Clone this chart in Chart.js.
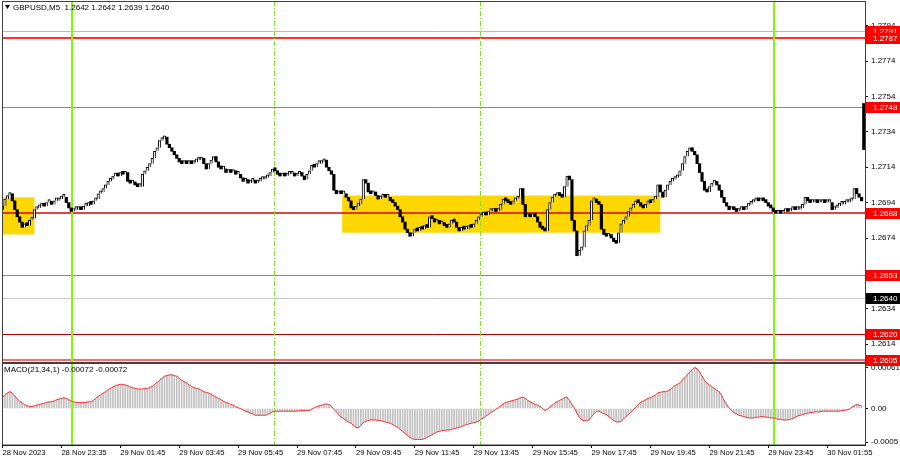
<!DOCTYPE html>
<html>
<head>
<meta charset="utf-8">
<script src="https://cdn.jsdelivr.net/npm/chart.js@4.4.0/dist/chart.umd.min.js"></script>
<style>
html, body { margin: 0; padding: 0; background: #fff; }
#wrap { width: 900px; height: 460px; }
</style>
</head>
<body>
<div id="wrap"><canvas id="chart" width="900" height="460"></canvas></div>
<script>
const symbolTitle = 'GBPUSD,M5  1.2642 1.2642 1.2639 1.2640';
const macdTitle = 'MACD(21,34,1) -0.00072 -0.00072';

// M5 closes, one per bar (bar index = position on the time axis)
const firstOpen = 1.2690;
const closes = [
  1.2692,1.2696,1.2698,1.2699,1.2695,1.2690,1.2686,1.2683,1.2680,1.2682,
  1.2681,1.2684,1.2685,1.2690,1.2691,1.2692,1.2693,1.2692,1.2694,1.2694,
  1.2693,1.2695,1.2695,1.2696,1.2697,1.2697,1.2694,1.2691,1.2689,1.2690,
  1.2690,1.2691,1.2690,1.2692,1.2692,1.2694,1.2693,1.2695,1.2696,1.2699,
  1.2700,1.2702,1.2704,1.2706,1.2707,1.2709,1.2710,1.2709,1.2711,1.2710,
  1.2711,1.2706,1.2705,1.2705,1.2704,1.2703,1.2703,1.2710,1.2712,1.2714,
  1.2716,1.2719,1.2723,1.2725,1.2729,1.2730,1.2731,1.2727,1.2725,1.2723,
  1.2721,1.2719,1.2717,1.2716,1.2717,1.2716,1.2717,1.2716,1.2717,1.2718,
  1.2718,1.2719,1.2716,1.2713,1.2716,1.2718,1.2720,1.2717,1.2714,1.2713,
  1.2713,1.2711,1.2712,1.2711,1.2712,1.2710,1.2710,1.2708,1.2706,1.2707,
  1.2705,1.2706,1.2706,1.2705,1.2706,1.2707,1.2707,1.2708,1.2709,1.2711,
  1.2713,1.2712,1.2710,1.2709,1.2710,1.2709,1.2710,1.2710,1.2710,1.2709,
  1.2710,1.2711,1.2709,1.2707,1.2710,1.2712,1.2715,1.2714,1.2716,1.2716,
  1.2717,1.2718,1.2714,1.2712,1.2710,1.2701,1.2699,1.2700,1.2699,1.2699,
  1.2697,1.2695,1.2691,1.2690,1.2692,1.2693,1.2696,1.2707,1.2705,1.2700,
  1.2699,1.2700,1.2698,1.2696,1.2697,1.2698,1.2697,1.2697,1.2695,1.2694,
  1.2692,1.2690,1.2686,1.2683,1.2679,1.2677,1.2675,1.2677,1.2679,1.2678,
  1.2680,1.2679,1.2681,1.2680,1.2686,1.2685,1.2683,1.2684,1.2682,1.2682,
  1.2681,1.2680,1.2682,1.2684,1.2683,1.2680,1.2678,1.2680,1.2679,1.2679,
  1.2681,1.2680,1.2682,1.2684,1.2686,1.2687,1.2688,1.2687,1.2689,1.2689,
  1.2690,1.2689,1.2690,1.2693,1.2696,1.2695,1.2694,1.2693,1.2695,1.2696,
  1.2697,1.2702,1.2693,1.2686,1.2687,1.2686,1.2688,1.2686,1.2683,1.2680,
  1.2679,1.2678,1.2690,1.2694,1.2697,1.2698,1.2699,1.2698,1.2697,1.2703,
  1.2709,1.2707,1.2684,1.2678,1.2664,1.2667,1.2669,1.2678,1.2681,1.2684,
  1.2695,1.2696,1.2694,1.2693,1.2679,1.2676,1.2675,1.2676,1.2674,1.2672,
  1.2671,1.2677,1.2682,1.2684,1.2686,1.2689,1.2691,1.2693,1.2695,1.2694,
  1.2692,1.2691,1.2693,1.2695,1.2694,1.2696,1.2697,1.2704,1.2700,1.2697,
  1.2701,1.2704,1.2706,1.2707,1.2708,1.2709,1.2712,1.2716,1.2720,1.2723,
  1.2725,1.2723,1.2721,1.2716,1.2711,1.2706,1.2701,1.2700,1.2703,1.2705,
  1.2706,1.2704,1.2701,1.2697,1.2694,1.2692,1.2690,1.2691,1.2690,1.2689,
  1.2690,1.2691,1.2690,1.2692,1.2693,1.2694,1.2695,1.2696,1.2695,1.2696,
  1.2695,1.2694,1.2692,1.2691,1.2689,1.2688,1.2689,1.2688,1.2689,1.2690,
  1.2689,1.2690,1.2691,1.2690,1.2690,1.2691,1.2693,1.2697,1.2695,1.2694,
  1.2694,1.2695,1.2694,1.2694,1.2695,1.2694,1.2694,1.2694,1.2690,1.2691,
  1.2692,1.2693,1.2693,1.2694,1.2694,1.2695,1.2696,1.2702,1.2699,1.2697,
  1.2695
];
const lastBar = [1.2724, 1.2750];

// MACD(21,34,1) main value per bar (signal equals main with period 1)
const macd = [
  0.00017,0.00020,0.00023,0.00025,0.00023,0.00019,0.00014,0.00011,0.00008,0.00006,
  0.00004,0.00003,0.00003,0.00004,0.00005,0.00006,0.00007,0.00008,0.00009,0.00010,
  0.00010,0.00011,0.00013,0.00014,0.00015,0.00016,0.00015,0.00013,0.00011,0.00010,
  0.00009,0.00009,0.00009,0.00009,0.00009,0.00010,0.00010,0.00012,0.00015,0.00018,
  0.00020,0.00023,0.00025,0.00028,0.00030,0.00032,0.00034,0.00035,0.00036,0.00036,
  0.00035,0.00034,0.00032,0.00031,0.00030,0.00029,0.00029,0.00029,0.00030,0.00030,
  0.00031,0.00033,0.00036,0.00039,0.00042,0.00045,0.00048,0.00049,0.00050,0.00050,
  0.00049,0.00048,0.00045,0.00042,0.00040,0.00038,0.00035,0.00033,0.00031,0.00030,
  0.00029,0.00027,0.00025,0.00024,0.00023,0.00021,0.00019,0.00017,0.00015,0.00013,
  0.00011,0.00009,0.00008,0.00006,0.00005,0.00003,0.00001,0.00000,-0.00002,-0.00004,
  -0.00005,-0.00007,-0.00008,-0.00010,-0.00010,-0.00010,-0.00010,-0.00010,-0.00009,-0.00007,
  -0.00005,-0.00004,-0.00004,-0.00004,-0.00004,-0.00004,-0.00004,-0.00004,-0.00004,-0.00004,
  -0.00004,-0.00003,-0.00003,-0.00003,-0.00003,-0.00003,-0.00001,0.00001,0.00003,0.00004,
  0.00005,0.00006,0.00007,0.00006,0.00003,-0.00001,-0.00005,-0.00009,-0.00013,-0.00015,
  -0.00018,-0.00020,-0.00022,-0.00025,-0.00028,-0.00029,-0.00025,-0.00021,-0.00019,-0.00018,
  -0.00017,-0.00017,-0.00017,-0.00018,-0.00018,-0.00019,-0.00020,-0.00021,-0.00022,-0.00024,
  -0.00026,-0.00028,-0.00031,-0.00034,-0.00037,-0.00040,-0.00043,-0.00045,-0.00046,-0.00046,
  -0.00046,-0.00046,-0.00045,-0.00043,-0.00041,-0.00039,-0.00037,-0.00035,-0.00034,-0.00033,
  -0.00033,-0.00032,-0.00032,-0.00031,-0.00030,-0.00029,-0.00028,-0.00027,-0.00025,-0.00024,
  -0.00023,-0.00022,-0.00021,-0.00020,-0.00019,-0.00016,-0.00014,-0.00011,-0.00009,-0.00006,
  -0.00004,-0.00001,0.00001,0.00004,0.00007,0.00009,0.00010,0.00011,0.00012,0.00013,
  0.00014,0.00016,0.00017,0.00015,0.00012,0.00010,0.00008,0.00006,0.00005,0.00003,
  0.00000,-0.00003,-0.00001,0.00002,0.00005,0.00008,0.00010,0.00012,0.00014,0.00016,
  0.00017,0.00012,0.00006,0.00001,-0.00007,-0.00013,-0.00017,-0.00018,-0.00018,-0.00017,
  -0.00012,-0.00008,-0.00004,-0.00004,-0.00006,-0.00008,-0.00009,-0.00012,-0.00015,-0.00018,
  -0.00020,-0.00020,-0.00019,-0.00016,-0.00012,-0.00009,-0.00006,-0.00002,0.00002,0.00006,
  0.00009,0.00011,0.00013,0.00015,0.00016,0.00018,0.00020,0.00023,0.00024,0.00025,
  0.00025,0.00026,0.00028,0.00031,0.00034,0.00036,0.00038,0.00042,0.00046,0.00050,
  0.00054,0.00058,0.00061,0.00059,0.00054,0.00048,0.00042,0.00038,0.00035,0.00032,
  0.00030,0.00027,0.00025,0.00019,0.00012,0.00006,0.00001,-0.00003,-0.00006,-0.00008,
  -0.00010,-0.00011,-0.00012,-0.00013,-0.00014,-0.00014,-0.00014,-0.00013,-0.00013,-0.00012,
  -0.00012,-0.00013,-0.00013,-0.00014,-0.00014,-0.00015,-0.00016,-0.00016,-0.00017,-0.00017,
  -0.00017,-0.00016,-0.00015,-0.00013,-0.00011,-0.00010,-0.00009,-0.00008,-0.00007,-0.00006,
  -0.00006,-0.00005,-0.00005,-0.00005,-0.00004,-0.00004,-0.00004,-0.00004,-0.00004,-0.00004,
  -0.00004,-0.00004,-0.00003,-0.00003,-0.00002,-0.00001,0.00002,0.00004,0.00006,0.00005,
  0.00004
];

// time axis labels (bar index -> text)
const timeIdx = [0, 24, 48, 72, 96, 120, 144, 168, 192, 216, 240, 264, 288, 312, 336];
const timeText = ['28 Nov 2023', '28 Nov 23:35', '29 Nov 01:45', '29 Nov 03:45', '29 Nov 05:45',
  '29 Nov 07:45', '29 Nov 09:45', '29 Nov 11:45', '29 Nov 13:45', '29 Nov 15:45',
  '29 Nov 17:45', '29 Nov 19:45', '29 Nov 21:45', '29 Nov 23:45', '30 Nov 01:55'];

const priceTicks = [1.2794, 1.2774, 1.2754, 1.2734, 1.2714, 1.2694, 1.2674, 1.2654, 1.2634, 1.2614];
const macdTicks = [0.00061, 0, -0.0005];
const macdTickText = ['0.00061', '0.00', '-0.0005'];

// horizontal price levels and the current price
const levels = [1.2791, 1.2787, 1.2748, 1.2688, 1.2653, 1.2640, 1.2620, 1.2605];
// yellow zones: [from bar, to bar, low, high]
const zones = [[-0.2, 13, 1.2676, 1.2697], [138.4, 268, 1.2677, 1.2698]];
const daySep = [28.2, 314.3];
const sessionMarks = [110.6, 194.7];

const levelStyle = [
  { line: '#ff9c9c', w: 1, box: '#ff0000' },
  { line: '#ff3030', w: 2, box: '#ff0000' },
  { line: '#f25c5c', w: 1, box: '#ff0000' },
  { line: '#e00000', w: 1.5, box: '#ff0000' },
  { line: '#f25c5c', w: 1, box: '#ff0000' },
  { line: '#c8c8c8', w: 1, box: '#000000' },
  { line: '#b00000', w: 1, box: '#ff0000' },
  { line: '#f07070', w: 2, box: '#ff0000' }
];

const FONT = 'Liberation Sans, Arial, sans-serif';

const overlay = {
  id: 'overlay',
  beforeDatasetsDraw(chart) {
    const { ctx, chartArea: ca, scales } = chart;
    const x = scales.x, y = scales.y;
    ctx.save();
    ctx.beginPath();
    ctx.rect(ca.left, y.top, ca.right - ca.left, y.bottom - y.top);
    ctx.clip();
    ctx.fillStyle = '#ffd700';
    zones.forEach(z => {
      const x0 = x.getPixelForValue(z[0]), x1 = x.getPixelForValue(z[1]);
      const y0 = y.getPixelForValue(z[3]), y1 = y.getPixelForValue(z[2]);
      ctx.fillRect(x0, y0, x1 - x0, y1 - y0);
    });
    levels.forEach((p, k) => {
      const st = levelStyle[k];
      const yy = Math.round(y.getPixelForValue(p)) + (st.w === 1 ? 0.5 : 0);
      ctx.strokeStyle = st.line;
      ctx.lineWidth = st.w;
      ctx.beginPath();
      ctx.moveTo(ca.left, yy);
      ctx.lineTo(ca.right, yy);
      ctx.stroke();
    });
    ctx.restore();

    ctx.save();
    ctx.strokeStyle = '#7cfc00';
    ctx.lineWidth = 2;
    daySep.forEach(v => {
      const xx = Math.round(x.getPixelForValue(v));
      ctx.beginPath();
      ctx.moveTo(xx, ca.top);
      ctx.lineTo(xx, ca.bottom);
      ctx.stroke();
    });
    ctx.strokeStyle = '#7ee81e';
    ctx.lineWidth = 1;
    ctx.setLineDash([5, 2, 1, 2]);
    sessionMarks.forEach(v => {
      const xx = Math.round(x.getPixelForValue(v)) + 0.5;
      ctx.beginPath();
      ctx.moveTo(xx, ca.top);
      ctx.lineTo(xx, ca.bottom);
      ctx.stroke();
    });
    ctx.restore();
  },
  afterDraw(chart) {
    const { ctx, chartArea: ca, scales } = chart;
    const y = scales.y, m = scales.m;
    ctx.save();
    // panel frames
    ctx.strokeStyle = '#404040';
    ctx.lineWidth = 1;
    ctx.strokeRect(ca.left + 0.5, y.top + 0.5, ca.right - ca.left, y.bottom - y.top - 1);
    ctx.strokeRect(ca.left + 0.5, m.top + 0.5, ca.right - ca.left, m.bottom - m.top - 0.5);

    // titles
    ctx.fillStyle = '#000';
    ctx.beginPath();
    ctx.moveTo(5, 5); ctx.lineTo(10, 5); ctx.lineTo(7.5, 9); ctx.closePath();
    ctx.fill();
    ctx.font = '8px ' + FONT;
    ctx.textBaseline = 'middle';
    ctx.textAlign = 'left';
    ctx.fillText(symbolTitle, 13, 7.5);
    ctx.fillText(macdTitle, 4, m.top + 7);

    // price level tags on the right axis
    levels.forEach((p, k) => {
      const yy = Math.round(y.getPixelForValue(p));
      ctx.fillStyle = levelStyle[k].box;
      ctx.fillRect(ca.right + 1, yy - 5, 900 - ca.right - 1, 11);
      ctx.fillStyle = '#fff';
      ctx.fillText(p.toFixed(4), ca.right + 8, yy + 0.5);
    });
    ctx.restore();
  }
};

const bodies = closes.map((c, i) => ({ x: i, y: [i ? closes[i - 1] : firstOpen, c] }));
const macdPts = macd.map((v, i) => ({ x: i, y: v }));
const isBull = c => c.raw && c.raw.y[1] >= c.raw.y[0];

const axisFont = { family: FONT, size: 8 };

new Chart(document.getElementById('chart').getContext('2d'), {
  type: 'bar',
  data: {
    datasets: [
      {
        type: 'line', label: 'MACD line', data: macdPts, yAxisID: 'm',
        borderColor: '#ff3030', borderWidth: 1, pointRadius: 0, tension: 0
      },
      {
        label: 'GBPUSD', data: bodies, yAxisID: 'y', grouped: false,
        barThickness: 2.5, minBarLength: 3,
        backgroundColor: c => isBull(c) ? '#ffffff' : '#000000',
        borderColor: '#000000',
        borderWidth: c => isBull(c) ? 1 : 0
      },
      {
        label: 'last', data: [{ x: 351, y: lastBar }], yAxisID: 'y', grouped: false,
        barThickness: 3, backgroundColor: '#000'
      },
      {
        label: 'MACD', data: macdPts, yAxisID: 'm', grouped: false,
        barThickness: 1, backgroundColor: '#c0c0c0'
      }
    ]
  },
  options: {
    responsive: false,
    animation: false,
    layout: { padding: { left: 2, top: 1, right: 0, bottom: 0 } },
    plugins: { legend: { display: false }, tooltip: { enabled: false } },
    scales: {
      x: {
        type: 'linear', min: -0.2, max: 351.4, offset: false, bounds: 'data',
        grid: { drawOnChartArea: false, offset: false, tickLength: 3, color: '#000' },
        border: { color: '#000' },
        ticks: {
          align: 'start', autoSkip: false, maxRotation: 0, padding: 0,
          color: '#000', font: { family: FONT, size: 7.6 },
          callback: (v, i) => timeText[i]
        },
        afterBuildTicks: s => { s.ticks = timeIdx.map(v => ({ value: v })); },
        afterFit: s => { s.height = 15; s.paddingLeft = 0; s.paddingRight = 0; }
      },
      y: {
        type: 'linear', position: 'right', stack: 'pane', stackWeight: 362,
        min: 1.26034, max: 1.28079, bounds: 'data',
        grid: { drawOnChartArea: false, tickLength: 3, color: '#000' },
        border: { color: '#000' },
        ticks: { padding: 3, color: '#000', font: axisFont, callback: v => v.toFixed(4) },
        afterBuildTicks: s => { s.ticks = priceTicks.map(v => ({ value: v })); },
        afterFit: s => { s.width = 35; s.paddingTop = 0; s.paddingBottom = 0; }
      },
      m: {
        type: 'linear', position: 'right', stack: 'pane', stackWeight: 82,
        min: -0.000543, max: 0.000677, bounds: 'data',
        grid: { drawOnChartArea: false, tickLength: 3, color: '#000' },
        border: { color: '#000' },
        ticks: { padding: 3, color: '#000', font: axisFont, callback: (v, i) => macdTickText[i] },
        afterBuildTicks: s => { s.ticks = macdTicks.map(v => ({ value: v })); },
        afterFit: s => { s.width = 35; s.paddingTop = 0; s.paddingBottom = 0; }
      }
    }
  },
  plugins: [overlay]
});
</script>
</body>
</html>
